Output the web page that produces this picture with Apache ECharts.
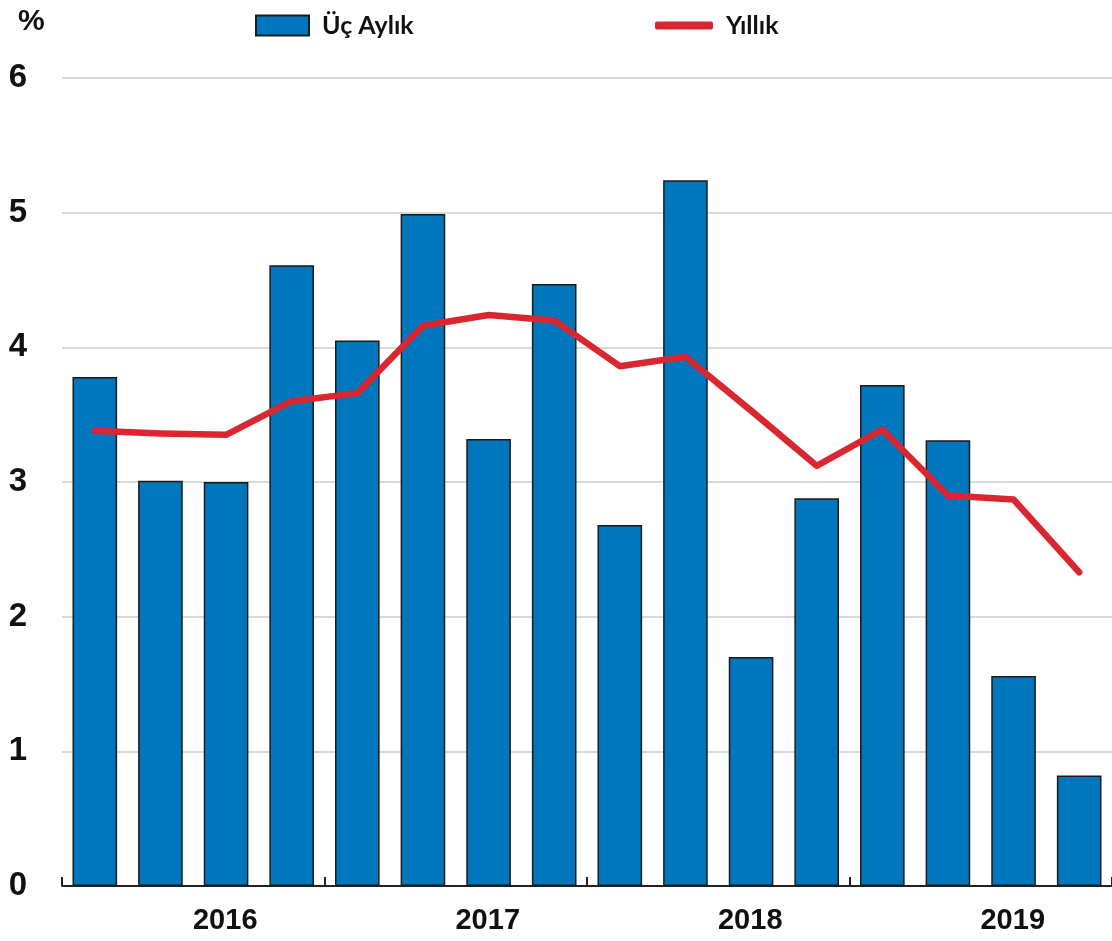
<!DOCTYPE html>
<html>
<head>
<meta charset="utf-8">
<script src="https://cdn.jsdelivr.net/npm/echarts@6/dist/echarts.min.js"></script>
<style>html,body{margin:0;padding:0;background:#fff}#c{width:1112px;height:941px}</style>
</head>
<body>
<div id="c"></div>
<script>
const quarters = ['2016Q1','2016Q2','2016Q3','2016Q4','2017Q1','2017Q2','2017Q3','2017Q4','2018Q1','2018Q2','2018Q3','2018Q4','2019Q1','2019Q2','2019Q3','2019Q4'];
const years = ['2016','2017','2018','2019'];
const quarterly = [3.78, 3.01, 3.00, 4.61, 4.05, 4.99, 3.32, 4.47, 2.68, 5.24, 1.70, 2.88, 3.72, 3.31, 1.56, 0.82];
const annual = [3.38, 3.36, 3.35, 3.60, 3.66, 4.16, 4.24, 4.20, 3.86, 3.93, 3.53, 3.12, 3.39, 2.90, 2.87, 2.33];
const seriesNames = ['Üç Aylık', 'Yıllık'];

const chart = echarts.init(document.getElementById('c'));
const boldNum = {fontFamily: '"Liberation Sans Narrow", "Liberation Sans", Arial, sans-serif', fontWeight: 'bold', color: '#111'};
const legendText = {fontFamily: 'Lato, "Open Sans", sans-serif', fontWeight: 'bold', fontSize: 25, color: '#111', padding: [0, 0, 0, 8]};
chart.setOption({
  animation: false,
  backgroundColor: '#fff',
  grid: {left: 62, right: 0, top: 78, bottom: 55, containLabel: false},
  legend: [
    {data: [seriesNames[0]], left: 250, top: 8, itemWidth: 53, itemHeight: 20, icon: 'rect', textStyle: legendText},
    {data: [seriesNames[1]], left: 650, top: 8, itemWidth: 58, itemHeight: 8, icon: 'roundRect', textStyle: legendText}
  ],
  graphic: [{type: 'text', left: 18, top: 7, style: {text: '%', font: 'bold 30px "Liberation Sans", Arial, sans-serif', fill: '#111'}}],
  xAxis: [
    {type: 'category', data: quarters, boundaryGap: true,
     axisLine: {lineStyle: {color: '#222', width: 2}},
     axisTick: {show: true, inside: true, length: 9, interval: 3, alignWithLabel: false, lineStyle: {color: '#222', width: 2}},
     axisLabel: {show: false}},
    {type: 'category', data: years, position: 'bottom', boundaryGap: true,
     axisLine: {show: false}, axisTick: {show: false},
     axisLabel: Object.assign({fontSize: 29, margin: 20, padding: [0, 0, 0, 64]}, boldNum, {fontFamily: '"Liberation Sans", Arial, sans-serif'})}
  ],
  yAxis: {type: 'value', min: 0, max: 6, interval: 1,
    axisLine: {show: false}, axisTick: {show: false},
    axisLabel: Object.assign({fontSize: 33, margin: 35}, boldNum),
    splitLine: {lineStyle: {color: '#d9d9d9', width: 2}}},
  series: [
    {name: seriesNames[0], type: 'bar', xAxisIndex: 0, data: quarterly, barWidth: '68%',
     itemStyle: {color: '#0077BD', borderColor: '#1b1b1b', borderWidth: 1.5}},
    {name: seriesNames[1], type: 'line', xAxisIndex: 0, data: annual, symbol: 'none', z: 5,
     lineStyle: {color: '#DA2630', width: 6.5, cap: 'round', join: 'round'},
     itemStyle: {color: '#DA2630'}}
  ]
});
</script>
</body>
</html>
